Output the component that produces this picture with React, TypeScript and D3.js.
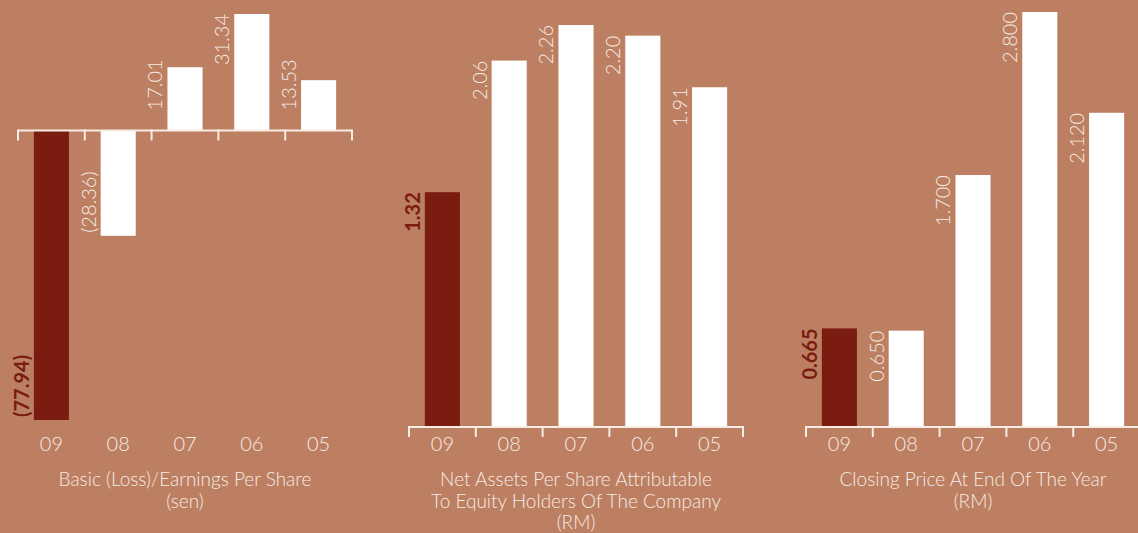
import React, { useEffect, useRef } from "react";
import * as d3 from "d3";

const years = ["09", "08", "07", "06", "05"];
const epsValues = [-77.94, -28.36, 17.01, 31.34, 13.53];
const epsLabels = ["(77.94)", "(28.36)", "17.01", "31.34", "13.53"];
const navValues = [1.32, 2.06, 2.26, 2.2, 1.91];
const navLabels = ["1.32", "2.06", "2.26", "2.20", "1.91"];
const priceValues = [0.665, 0.65, 1.7, 2.8, 2.12];
const priceLabels = ["0.665", "0.650", "1.700", "2.800", "2.120"];
const titles1 = ["Basic (Loss)/Earnings Per Share", "(sen)"];
const titles2 = ["Net Assets Per Share Attributable", "To Equity Holders Of The Company", "(RM)"];
const titles3 = ["Closing Price At End Of The Year", "(RM)"];

const BG = "#bc7f62";
const DARK = "#7a1c10";
const LIGHT = "#f7ebe4";
const FONT = "Lato, 'Open Sans', sans-serif";

type Panel = {
  values: number[];
  labels: string[];
  titles: string[];
  xr: [number, number];
  yd: [number, number];
  yr: [number, number];
};

const panels: Panel[] = [
  { values: epsValues, labels: epsLabels, titles: titles1, xr: [18, 352], yd: [-77.94, 31.34], yr: [420, 14] },
  { values: navValues, labels: navLabels, titles: titles2, xr: [409, 743], yd: [0, 2.26], yr: [427, 25] },
  { values: priceValues, labels: priceLabels, titles: titles3, xr: [806, 1140], yd: [0, 2.8], yr: [427, 12] },
];

export default function App() {
  const ref = useRef<SVGSVGElement | null>(null);
  useEffect(() => {
    const svg = d3.select(ref.current);
    svg.selectAll("*").remove();
    svg.append("rect").attr("width", 1138).attr("height", 533).attr("fill", BG);

    panels.forEach((p) => {
      const g = svg.append("g");
      const x = d3.scaleBand<string>().domain(years).range(p.xr).paddingInner(0.475).paddingOuter(0.2375);
      const y = d3.scaleLinear().domain(p.yd).range(p.yr);
      const step = x.step();
      const y0 = y(0);
      const start = p.xr[0];

      // bars
      g.selectAll("rect.bar")
        .data(p.values)
        .join("rect")
        .attr("class", "bar")
        .attr("x", (_, i) => x(years[i])!)
        .attr("width", x.bandwidth())
        .attr("y", (d) => Math.min(y(d), y0))
        .attr("height", (d) => Math.abs(y(d) - y0))
        .attr("fill", (_, i) => (i === 0 ? DARK : "#ffffff"));

      // axis
      const ticks = d3.range(years.length + 1).map((i) => start + i * step);
      g.append("line")
        .attr("x1", ticks[0])
        .attr("x2", ticks[ticks.length - 1])
        .attr("y1", y0)
        .attr("y2", y0)
        .attr("stroke", LIGHT)
        .attr("stroke-width", 2);
      g.selectAll("line.tick")
        .data(ticks)
        .join("line")
        .attr("class", "tick")
        .attr("x1", (d) => d)
        .attr("x2", (d) => d)
        .attr("y1", y0 - 1)
        .attr("y2", y0 + 10)
        .attr("stroke", LIGHT)
        .attr("stroke-width", 2);

      // value labels
      const labels = g
        .selectAll("text.val")
        .data(p.values)
        .join("text")
        .attr("class", "val")
        .attr("text-anchor", (d) => (d >= 0 ? "end" : "start"))
        .attr("font-family", FONT)
        .attr("font-size", 20)
        .attr("font-weight", (_, i) => (i === 0 ? 700 : 300))
        .attr("fill", (_, i) => (i === 0 ? DARK : LIGHT))
        .text((_, i) => p.labels[i]);
      labels.attr("transform", function (d, i) {
        const len = (this as SVGTextElement).getComputedTextLength();
        const lx = x(years[i])! - 5;
        const ly = d >= 0 ? Math.min(y(d), y0 - 20 - len) : y(d) - 3;
        return `translate(${lx},${ly}) rotate(-90)`;
      });

      // year labels
      g.selectAll("text.yr")
        .data(years)
        .join("text")
        .attr("class", "yr")
        .attr("x", (d) => x(d)! + x.bandwidth() / 2)
        .attr("y", 451)
        .attr("text-anchor", "middle")
        .attr("font-family", FONT)
        .attr("font-size", 20)
        .attr("font-weight", 300)
        .attr("fill", LIGHT)
        .text((d) => d);

      // titles
      const cx = (p.xr[0] + p.xr[1]) / 2;
      g.selectAll("text.title")
        .data(p.titles)
        .join("text")
        .attr("class", "title")
        .attr("x", cx)
        .attr("y", (_, i) => 486 + i * 21.5)
        .attr("text-anchor", "middle")
        .attr("font-family", FONT)
        .attr("font-size", 19)
        .attr("font-weight", 300)
        .attr("fill", LIGHT)
        .text((d) => d);
    });
  }, []);

  return (
    <svg
      ref={ref}
      width={1138}
      height={533}
      style={{ position: "absolute", left: 0, top: 0, display: "block" }}
    />
  );
}
